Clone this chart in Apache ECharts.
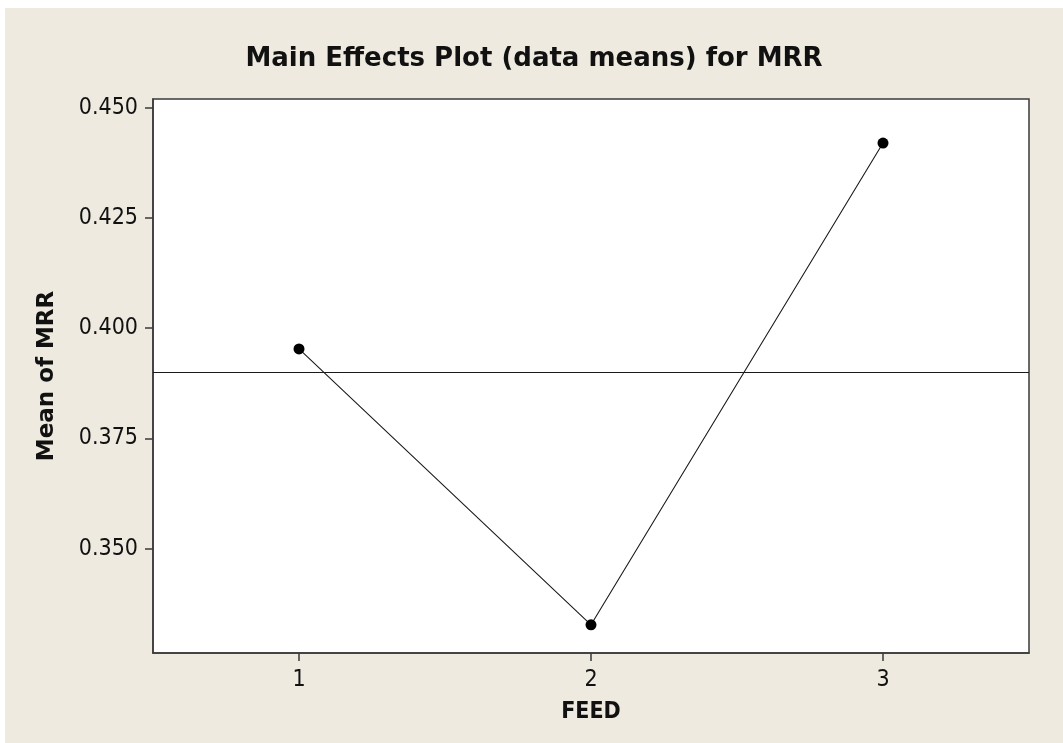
<!DOCTYPE html>
<html>
<head>
<meta charset="utf-8">
<script src="https://cdn.jsdelivr.net/npm/echarts@6/dist/echarts.min.js"></script>
<style>
  html, body { margin: 0; padding: 0; background: #ffffff; width: 1063px; height: 743px; overflow: hidden; }
  #chart { position: absolute; left: 5px; top: 8px; width: 1058px; height: 735px; }
</style>
</head>
<body>
<div id="chart"></div>
<script>
// Data
const feedLevels = ['1', '2', '3'];
const meanMRR = [0.3953, 0.3327, 0.4420];
const overallMean = 0.3898;
const yTickValues = [0.350, 0.375, 0.400, 0.425, 0.450];
const yMin = 0.3263;
const yMax = 0.4520;

const txt = '#111111';
const frame = '#3a3a3a';
const fontCond = '"DejaVu Sans Condensed", "DejaVu Sans", sans-serif';
const fontWide = '"DejaVu Sans", sans-serif';

const chart = echarts.init(document.getElementById('chart'));
chart.setOption({
  backgroundColor: '#EEEAE0',
  animation: false,
  title: {
    text: 'Main Effects Plot (data means) for MRR',
    left: 'center',
    top: 33,
    textStyle: { fontFamily: fontWide, fontWeight: 'bold', fontSize: 26, color: txt }
  },
  grid: {
    left: 148, top: 91, right: 34, bottom: 90,
    show: true, backgroundColor: '#ffffff', borderColor: frame, borderWidth: 1.5
  },
  xAxis: {
    type: 'category',
    data: feedLevels,
    boundaryGap: true,
    name: 'FEED',
    nameLocation: 'middle',
    nameGap: 48,
    nameTextStyle: { fontFamily: fontCond, fontWeight: 'bold', fontSize: 23, color: txt },
    axisLine: { show: true, lineStyle: { color: frame, width: 1.5 } },
    axisTick: { show: true, alignWithLabel: true, length: 8, lineStyle: { color: frame, width: 1.5 } },
    axisLabel: { fontFamily: fontCond, fontSize: 23, color: txt, margin: 16 },
    splitLine: { show: false }
  },
  yAxis: {
    type: 'value',
    min: yMin,
    max: yMax,
    name: 'Mean of MRR',
    nameLocation: 'middle',
    nameGap: 94,
    nameTextStyle: { fontFamily: fontWide, fontWeight: 'bold', fontSize: 23, color: txt },
    axisLine: { show: true, lineStyle: { color: frame, width: 1.5 } },
    axisTick: { show: true, length: 8, customValues: yTickValues, lineStyle: { color: frame, width: 1.5 } },
    axisLabel: {
      fontFamily: fontCond, fontSize: 23, color: txt, margin: 15,
      customValues: yTickValues,
      formatter: v => v.toFixed(3)
    },
    splitLine: { show: false }
  },
  series: [{
    type: 'line',
    data: meanMRR,
    symbol: 'circle',
    symbolSize: 11,
    itemStyle: { color: '#000000' },
    lineStyle: { color: '#1a1a1a', width: 1.1 },
    markLine: {
      silent: true,
      symbol: 'none',
      label: { show: false },
      lineStyle: { color: '#1a1a1a', width: 1.1, type: 'solid' },
      data: [{ yAxis: overallMean }]
    }
  }]
});
</script>
</body>
</html>
